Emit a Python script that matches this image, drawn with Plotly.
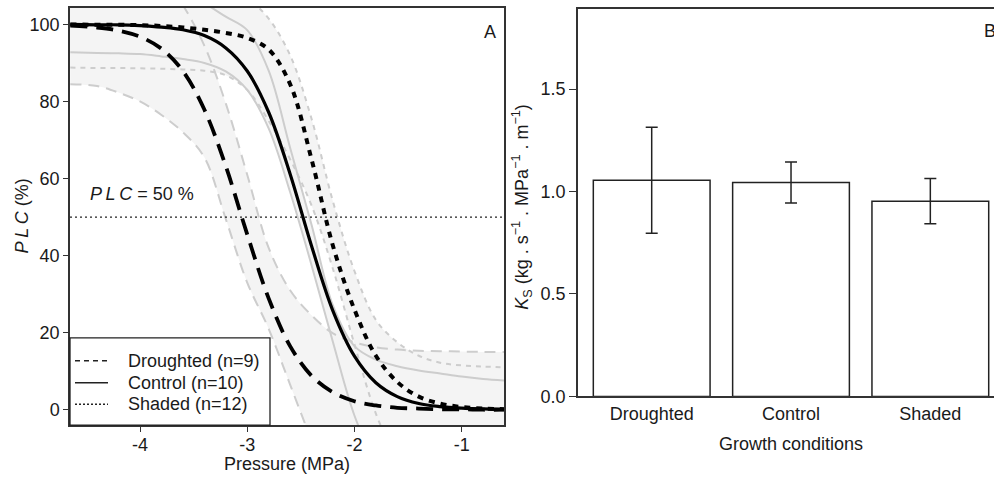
import plotly.graph_objects as go

W, H = 994, 489

# ---------------- data: panel A (vulnerability curves) ----------------
pressure = [-4.65, -4.4, -4.2, -4.0, -3.8, -3.6, -3.4, -3.2, -3.0, -2.8, -2.6,
            -2.4, -2.2, -2.0, -1.8, -1.6, -1.4, -1.2, -1.0, -0.8, -0.6]

plc_droughted = [99.7, 99.2, 98.4, 96.8, 93.7, 87.9, 77.9, 63.2, 45.5, 28.9, 16.5,
                 8.8, 4.5, 2.2, 1.1, 0.5, 0.3, 0.1, 0.1, 0.0, 0.0]
plc_control = [100, 99.9, 99.9, 99.7, 99.3, 98.6, 97.1, 93.9, 87.9, 77.2, 61.2,
               42.5, 25.6, 13.9, 7.0, 3.4, 1.6, 0.8, 0.4, 0.2, 0.1]
plc_shaded = [100, 99.9, 99.9, 99.8, 99.6, 99.2, 98.6, 97.8, 96.5, 93.5, 84.5,
              65, 42.5, 26, 14, 7.2, 3.4, 1.6, 0.7, 0.3, 0.15]

ci_droughted_low = [84.5, 84, 82.3, 80, 76.5, 72, 65.5, 49.5, 33, 21, 6.5,
                    -8, -22, -30, -34, -36, -37, -38, -38, -38, -38]
ci_droughted_high = [135, 130, 125, 120, 113, 105, 94.5, 79.5, 61, 42, 31,
                     24.5, 19.8, 17.5, 16.2, 15.6, 15.3, 15.2, 15.1, 15, 15]
ci_control_low = [92.8, 92.6, 92.5, 92.3, 91.7, 91, 90, 87.8, 83, 73, 56.5,
                  37.5, 17.5, -1.5, -14, -22, -27, -30, -32, -33, -34]
ci_control_high = [118, 116, 114.5, 113, 111, 108.5, 105.5, 102, 98.5, 88, 68,
                   48, 27, 16.5, 13, 11.3, 10.2, 9.4, 8.6, 8.0, 7.6]
ci_shaded_low = [88.8, 88.7, 88.7, 88.6, 88.5, 88.3, 88, 86.8, 83, 75, 65,
                 53, 36.5, 17, -1, -13, -20, -24, -26, -27, -28]
ci_shaded_high = [150, 145, 140, 135, 128, 122, 116, 111, 107, 101.5, 92,
                  75.5, 54, 36, 23.3, 17.5, 14, 12.2, 11.5, 11.2, 11]

plc_reference = 50
x_tick_vals = [-4, -3, -2, -1]
x_tick_text = ["-4", "-3", "-2", "-1"]
y_tick_vals = [0, 20, 40, 60, 80, 100]

legend_labels = ["Droughted (n=9)", "Control (n=10)", "Shaded (n=12)"]

# ---------------- data: panel B (Ks bars) ----------------
groups = ["Droughted", "Control", "Shaded"]
ks_mean = [1.055, 1.044, 0.953]
ks_err = [0.259, 0.100, 0.110]
ks_tick_vals = [0, 0.5, 1.0, 1.5]
ks_tick_text = ["0.0", "0.5", "1.0", "1.5"]

# ---------------- styling ----------------
FONT = "Liberation Sans, Arial, sans-serif"
AX = "#333333"
TXT = "#1a1a1a"
BAND = "#f4f4f4"
GREY = "#cdcdcd"


def px(x):
    return x / W


def py(y):
    return 1 - y / H


fig = go.Figure()

# confidence bands (opaque fills between lower and upper bound curves)
for lo, hi in [(ci_droughted_low, ci_droughted_high),
               (ci_control_low, ci_control_high),
               (ci_shaded_low, ci_shaded_high)]:
    fig.add_trace(go.Scatter(x=pressure, y=lo, mode="lines",
                             line=dict(width=0, shape="spline", color=BAND),
                             hoverinfo="skip", showlegend=False))
    fig.add_trace(go.Scatter(x=pressure, y=hi, mode="lines",
                             line=dict(width=0, shape="spline", color=BAND),
                             fill="tonexty", fillcolor=BAND,
                             hoverinfo="skip", showlegend=False))

# band boundary lines
bound_styles = [
    (ci_droughted_low, "11px,7px"), (ci_droughted_high, "11px,7px"),
    (ci_control_low, "solid"), (ci_control_high, "solid"),
    (ci_shaded_low, "5px,5px"), (ci_shaded_high, "5px,5px"),
]
for ys, dash in bound_styles:
    fig.add_trace(go.Scatter(x=pressure, y=ys, mode="lines",
                             line=dict(width=2, shape="spline", color=GREY, dash=dash),
                             hoverinfo="skip", showlegend=False))

# main fitted curves
main_styles = [
    (plc_droughted, "17px,9px", 3.8),
    (plc_control, "solid", 3.2),
    (plc_shaded, "6px,6px", 4.0),
]
for ys, dash, w in main_styles:
    fig.add_trace(go.Scatter(x=pressure, y=ys, mode="lines",
                             line=dict(width=w, shape="spline", color="black", dash=dash),
                             showlegend=False))

# panel B bars
fig.add_trace(go.Bar(x=groups, y=ks_mean, xaxis="x2", yaxis="y2",
                     marker=dict(color="white", line=dict(color="#222222", width=1.5)),
                     error_y=dict(type="data", array=ks_err, color="#222222",
                                  thickness=1.5, width=6),
                     showlegend=False))

axis_common = dict(showline=True, linecolor=AX, linewidth=1.5, showgrid=False,
                   zeroline=False, tickfont=dict(family=FONT, size=18, color=TXT),
                   tickcolor=AX, tickwidth=1.2)

fig.update_layout(
    width=W, height=H, autosize=False,
    margin=dict(l=0, r=0, t=0, b=0, pad=0),
    paper_bgcolor="white", plot_bgcolor="white",
    bargap=0.162,
    xaxis=dict(domain=[px(70), px(504)], range=[-4.653, -0.605],
               tickvals=x_tick_vals, ticktext=x_tick_text, ticklabelstandoff=-2,
               ticks="outside", ticklen=5, mirror=True, anchor="y", **axis_common),
    yaxis=dict(domain=[py(434), py(8)], range=[-4.0, 104.3],
               tickvals=y_tick_vals, ticks="outside", ticklen=5,
               mirror=True, anchor="x", **axis_common),
    xaxis2=dict(domain=[px(578), 1.0], range=[-0.529, 2.457], type="category",
                ticks="", mirror=True, anchor="y2", **axis_common),
    yaxis2=dict(domain=[py(404.7), py(9.3)], range=[0, 1.89],
                tickvals=ks_tick_vals, ticktext=ks_tick_text,
                ticks="outside", ticklen=7, mirror=False, anchor="x2", **axis_common),
    font=dict(family=FONT, size=18, color=TXT),
)

shapes = []
# PLC = 50 % reference line
shapes.append(dict(type="line", xref="x domain", yref="y", x0=0, x1=1,
                   y0=plc_reference, y1=plc_reference,
                   line=dict(color="#222222", width=1.3, dash="2px,3px"), layer="above"))
# legend box
shapes.append(dict(type="rect", xref="paper", yref="paper",
                   x0=px(70), x1=px(270), y0=py(434), y1=py(345),
                   line=dict(color="#222222", width=1.3), fillcolor="white", layer="above"))
legend_dash = ["5px,4px", "solid", "2px,2px"]
legend_y = [368.3, 390.7, 412.7]
for d, yy in zip(legend_dash, legend_y):
    shapes.append(dict(type="line", xref="paper", yref="paper",
                       x0=px(75), x1=px(108), y0=py(yy), y1=py(yy),
                       line=dict(color="#222222", width=1.5, dash=d), layer="above"))
fig.update_layout(shapes=shapes)

ann = []
for lab, yy in zip(legend_labels, legend_y):
    ann.append(dict(text=lab, xref="paper", yref="paper", x=px(126), y=py(yy),
                    xanchor="left", yanchor="middle", showarrow=False,
                    font=dict(family=FONT, size=18, color=TXT)))
ann.append(dict(text="<i>P\u2009L\u2009C</i> = 50 %", xref="paper", yref="paper",
                x=px(88), y=py(198), xanchor="left", yanchor="middle", showarrow=False,
                font=dict(family=FONT, size=18, color=TXT)))
ann.append(dict(text="A", xref="paper", yref="paper", x=px(490), y=py(33),
                xanchor="center", yanchor="middle", showarrow=False,
                font=dict(family=FONT, size=18, color=TXT)))
ann.append(dict(text="B", xref="paper", yref="paper", x=px(982), y=py(32),
                xanchor="left", yanchor="middle", showarrow=False,
                font=dict(family=FONT, size=18, color=TXT)))
ann.append(dict(text="<i>P\u2009L\u2009C</i> (%)", xref="paper", yref="paper",
                x=px(22), y=py(221), xanchor="center", yanchor="middle",
                textangle=-90, showarrow=False,
                font=dict(family=FONT, size=18, color=TXT)))
ann.append(dict(text="Pressure (MPa)", xref="paper", yref="paper",
                x=px(287), y=py(474), xanchor="center", yanchor="middle",
                showarrow=False, font=dict(family=FONT, size=18, color=TXT)))
ann.append(dict(text="Growth conditions", xref="paper", yref="paper",
                x=px(790.7), y=py(453.3), xanchor="center", yanchor="middle",
                showarrow=False, font=dict(family=FONT, size=18, color=TXT)))
ann.append(dict(text="<i>K</i><sub>S</sub> (kg . s<sup>\u22121</sup> . MPa<sup>\u22121</sup> . m<sup>\u22121</sup>)",
                xref="paper", yref="paper", x=px(522), y=py(211),
                xanchor="center", yanchor="middle", textangle=-90, showarrow=False,
                font=dict(family=FONT, size=18, color=TXT)))
fig.update_layout(annotations=ann)

page_css = (
    "var h=document.documentElement, b=document.body;"
    "h.style.margin='0';h.style.padding='0';h.style.overflow='hidden';"
    "b.style.margin='0';b.style.padding='0';b.style.overflow='hidden';"
)
fig.write_html("out.html", config={"responsive": False, "displayModeBar": False},
               post_script=page_css)
